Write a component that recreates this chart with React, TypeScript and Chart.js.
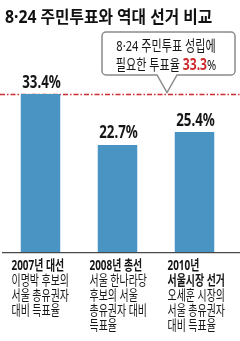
import React, { useEffect, useRef } from "react";
import { Chart, registerables } from "chart.js";
Chart.register(...registerables);

const title = "8·24 주민투표와 역대 선거 비교";
const categories = ["2007년 대선", "2008년 총선", "2010년 서울시장 선거"];
const values = [33.4, 22.7, 25.4];
const thresholdValue = 33.3;
const calloutLine1 = "8·24 주민투표 성립에";
const calloutLine2Prefix = "필요한 투표율 ";
const calloutLine2Suffix = "%";
const categoryLines = [
  ["2007년 대선", "이명박 후보의", "서울 총유권자", "대비 득표율"],
  ["2008년 총선", "서울 한나라당", "후보의 서울", "총유권자 대비", "득표율"],
  ["2010년", "서울시장 선거", "오세훈 시장의", "서울 총유권자", "대비 득표율"],
];
const boldLineCounts = [1, 1, 2];

const FONT = '"Noto Sans", "Noto Sans CJK KR", sans-serif';
const TEXT = "#151515";
const RED = "#cf2a2e";

function txt(ctx: CanvasRenderingContext2D, s: string, x: number, y: number, size: number, weight: string, sx: number, color: string, align = "left") {
  ctx.save();
  ctx.font = `${weight} ${size}px ${FONT}`;
  ctx.fillStyle = color;
  ctx.textBaseline = "alphabetic";
  ctx.textAlign = "left";
  const w = ctx.measureText(s).width * sx;
  const dx = align === "center" ? -w / 2 : align === "right" ? -w : 0;
  ctx.translate(x + dx, y);
  ctx.scale(sx, 1);
  ctx.fillText(s, 0, 0);
  ctx.restore();
  return w;
}
function measure(ctx: CanvasRenderingContext2D, s: string, size: number, weight: string, sx: number) {
  ctx.save();
  ctx.font = `${weight} ${size}px ${FONT}`;
  const w = ctx.measureText(s).width * sx;
  ctx.restore();
  return w;
}

const decor = {
  id: "decor",
  beforeDatasetsDraw(chart: any) {
    const ctx = chart.ctx as CanvasRenderingContext2D;
    const y = chart.scales.y.getPixelForValue(thresholdValue);
    ctx.save();
    ctx.strokeStyle = RED;
    ctx.lineWidth = 1.5;
    ctx.setLineDash([5, 2, 1.5, 2]);
    ctx.beginPath();
    ctx.moveTo(0, y);
    ctx.lineTo(chart.width, y);
    ctx.stroke();
    ctx.restore();
  },
  afterDatasetsDraw(chart: any) {
    const ctx = chart.ctx as CanvasRenderingContext2D;
    const ys = chart.scales.y;
    const y0 = ys.getPixelForValue(0);
    ctx.save();
    ctx.strokeStyle = "#4a4a4a";
    ctx.lineWidth = 1.2;
    ctx.beginPath();
    ctx.moveTo(2, y0);
    ctx.lineTo(chart.width, y0);
    ctx.stroke();
    ctx.restore();

    const meta = chart.getDatasetMeta(0);
    meta.data.forEach((bar: any, i: number) => {
      txt(ctx, values[i].toFixed(1) + "%", bar.x + 1, bar.y - 6.5, 18, "bold", 0.74, TEXT, "center");
      const lines = categoryLines[i];
      lines.forEach((ln, j) => {
        const bold = j < boldLineCounts[i];
        txt(ctx, ln, bar.x - 29 + i, 270 + j * 14.9, 14, bold ? "bold" : "normal", 0.71, TEXT);
      });
    });

    txt(ctx, title, 5, 23, 17.5, "bold", 0.9, "#111");

    const ty = ys.getPixelForValue(thresholdValue);
    const L = 102, R = 235, T = 32, B = 75, r = 4;
    const px = 167;
    ctx.save();
    ctx.fillStyle = "#ffffff";
    ctx.strokeStyle = "#8a8a8a";
    ctx.lineWidth = 1.5;
    ctx.beginPath();
    ctx.moveTo(L + r, T);
    ctx.lineTo(R - r, T);
    ctx.arcTo(R, T, R, T + r, r);
    ctx.lineTo(R, B - r);
    ctx.arcTo(R, B, R - r, B, r);
    ctx.lineTo(px + 10, B);
    ctx.lineTo(px, ty - 2);
    ctx.lineTo(px - 10, B);
    ctx.lineTo(L + r, B);
    ctx.arcTo(L, B, L, B - r, r);
    ctx.lineTo(L, T + r);
    ctx.arcTo(L, T, L + r, T, r);
    ctx.closePath();
    ctx.fill();
    ctx.stroke();
    ctx.restore();

    const cx = 166;
    txt(ctx, calloutLine1, cx, 50.5, 15, "normal", 0.74, TEXT, "center");
    const num = thresholdValue.toFixed(1);
    const w1 = measure(ctx, calloutLine2Prefix, 15, "normal", 0.74);
    const w2 = measure(ctx, num, 16, "bold", 0.76);
    const w3 = measure(ctx, calloutLine2Suffix, 15, "normal", 0.74);
    let x = cx - (w1 + w2 + w3) / 2;
    x += txt(ctx, calloutLine2Prefix, x, 69.5, 15, "normal", 0.74, TEXT);
    x += txt(ctx, num, x, 69.5, 16, "bold", 0.76, RED);
    txt(ctx, calloutLine2Suffix, x, 69.5, 15, "normal", 0.74, TEXT);
  },
};

export default function App() {
  const ref = useRef<HTMLCanvasElement>(null);
  useEffect(() => {
    document.body.style.margin = "0";
    const chart = new Chart(ref.current!, {
      type: "bar",
      data: {
        labels: categories,
        datasets: [
          {
            data: values,
            backgroundColor: "#4a94c4",
            borderWidth: 0,
            barPercentage: 0.513,
            categoryPercentage: 1,
          },
        ],
      },
      options: {
        responsive: false,
        animation: false,
        devicePixelRatio: 1,
        layout: { padding: { left: 2, right: 7, top: 62.7, bottom: 88.3 } },
        plugins: { legend: { display: false }, tooltip: { enabled: false } },
        scales: {
          x: { display: false },
          y: { display: false, min: 0, max: 40 },
        },
      },
      plugins: [decor],
    });
    return () => chart.destroy();
  }, []);
  return (
    <div style={{ position: "absolute", left: 0, top: 0, width: 240, height: 341, background: "#fff" }}>
      <canvas ref={ref} width={240} height={341} style={{ display: "block" }} />
    </div>
  );
}
